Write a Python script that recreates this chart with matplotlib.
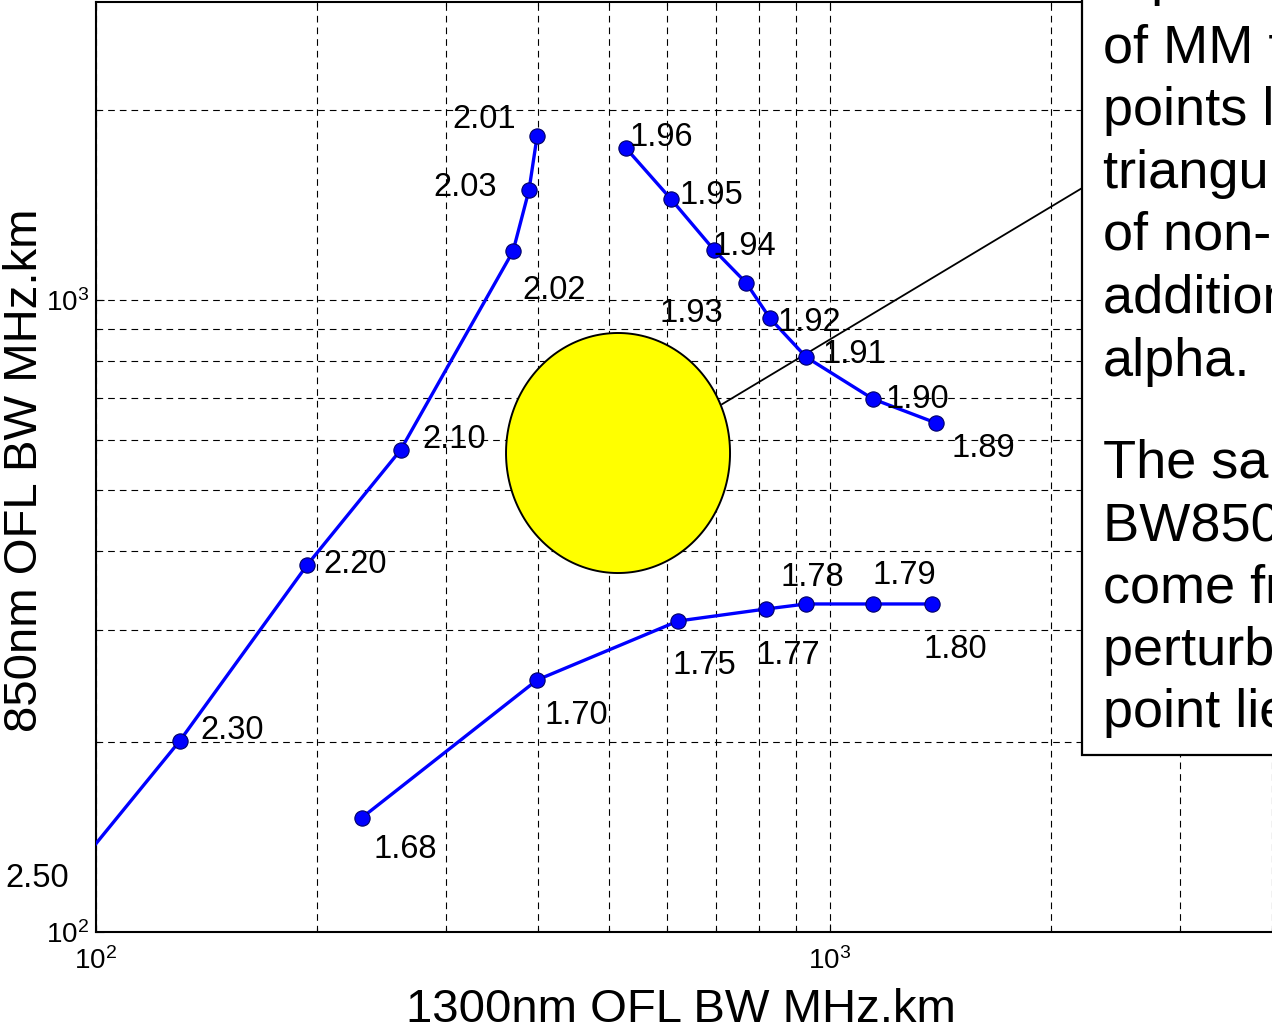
import numpy as np
import matplotlib
matplotlib.use('Agg')
import matplotlib.pyplot as plt
from matplotlib.patches import Rectangle
from matplotlib.ticker import NullFormatter

plt.rcParams['font.family'] = ['Liberation Sans', 'DejaVu Sans']

# high alpha branch (2.xx)
alpha_hi = ['2.50', '2.30', '2.20', '2.10', '2.02', '2.03', '2.01']
bw1300_hi = [85, 130, 194, 260, 370, 389, 399]
bw850_hi = [109.5, 200.5, 381, 579, 1195, 1493, 1818]
off_hi = [(-39, 29), (21, 11), (16, 0), (22, 10), (9, -39), (-96, 2), (-85, 16)]

# middle branch (1.9x)
alpha_mid = ['1.96', '1.95', '1.94', '1.93', '1.92', '1.91', '1.90', '1.89']
bw1300_mid = [527, 607, 695, 769, 828, 928, 1145, 1394]
bw850_mid = [1740, 1445, 1200, 1064, 936, 812, 697, 639]
off_mid = [(4, 10), (9, 3), (-2, 3), (-87, -31), (8, -4), (16, 3), (12, 0), (16, -26)]

# low alpha branch (1.7x)
alpha_lo = ['1.68', '1.70', '1.75', '1.77', '1.78', '1.79', '1.80']
bw1300_lo = [230, 399, 621, 818, 928, 1145, 1377]
bw850_lo = [151.5, 250.5, 310.5, 324.4, 330.4, 330.4, 330.4]
off_lo = [(12, -32), (7, -36), (-6, -44), (-9, -47), (-26, 26), (-1, 28), (-8, -46)]

# yellow blob (centre and radii in decades)
blob_x, blob_y = 2.7112, 2.7579
blob_rx, blob_ry = 0.1526, 0.1899
# pointer line from blob to text box
ptr_x = [712.6, 2204]
ptr_y = [684, 1503]

note_lines = ['A plot of the spread', 'of MM fibre BW', 'points lie in a',
              'triangular region', 'of non-alpha profiles', 'additional to changes in',
              'alpha.']
note_lines2 = ['The same', 'BW850 and BW1300', 'come from different',
               'perturbations, so the', 'point lies in the region']

W, H = 1272, 1029
fig = plt.figure(figsize=(W / 100, H / 100), dpi=100)
ax = fig.add_axes([96 / W, 97 / H, 1.699 * 734 / W, 930 / H])
ax.set_xscale('log')
ax.set_yscale('log')
ax.set_xlim(100, 5000)
ax.set_ylim(100, 10 ** (2 + 930 / 632))

ax.xaxis.set_minor_formatter(NullFormatter())
ax.yaxis.set_minor_formatter(NullFormatter())
ax.grid(True, which='both', color='black', linestyle=(0, (6, 4.5)), linewidth=0.8)
ax.tick_params(which='both', direction='in', top=True, right=True, labelsize=20)
ax.tick_params(which='major', length=6, width=0.8)
ax.tick_params(which='minor', length=3, width=0.8)
ax.tick_params(axis='x', pad=11)
ax.tick_params(axis='y', pad=5)
for s in ax.spines.values():
    s.set_linewidth(1.5)

t = np.linspace(0, 2 * np.pi, 200)
ax.fill(10 ** (blob_x + blob_rx * np.cos(t)), 10 ** (blob_y + blob_ry * np.sin(t)),
        facecolor='#ffff00', edgecolor='black', linewidth=1.4, zorder=3)
ax.plot(ptr_x, ptr_y, color='black', linewidth=1.3, zorder=3)

for xs, ys, labs, offs in [(bw1300_hi, bw850_hi, alpha_hi, off_hi),
                           (bw1300_mid, bw850_mid, alpha_mid, off_mid),
                           (bw1300_lo, bw850_lo, alpha_lo, off_lo)]:
    ax.plot(xs, ys, '-o', color='#0000ff', linewidth=2.4, markersize=11,
            markerfacecolor='#0000ff', markeredgecolor='#000066', markeredgewidth=0.8,
            zorder=4)
    for x, y, lab, (dx, dy) in zip(xs, ys, labs, offs):
        ax.annotate(lab, (x, y), xytext=(dx, dy), textcoords='offset pixels',
                    ha='left', va='center', fontsize=23.5, zorder=5,
                    annotation_clip=False)

fig.text(681 / W, 1 - 1022 / H, '1300nm OFL BW MHz.km', fontsize=34,
         ha='center', va='baseline')
fig.text(25 / W, 1 - 470 / H, '850nm OFL BW MHz.km', fontsize=34,
         ha='center', va='center', rotation=90)

# text box on the right, running off the figure edge
fig.patches.append(Rectangle((1082 / W, 1 - 755 / H), 0.5, 1.0, transform=fig.transFigure,
                             facecolor='white', edgecolor='black', linewidth=1.6,
                             zorder=5))
for i, line in enumerate(note_lines):
    fig.text(1103 / W, 1 - (-5 + 62.6 * i + (5 if i else 0)) / H, line, fontsize=39,
             ha='left', va='baseline', zorder=6)
for i, line in enumerate(note_lines2):
    fig.text(1103 / W, 1 - (478 + 62.3 * i) / H, line, fontsize=39,
             ha='left', va='baseline', zorder=6)

fig.savefig('out.png', dpi=100)
